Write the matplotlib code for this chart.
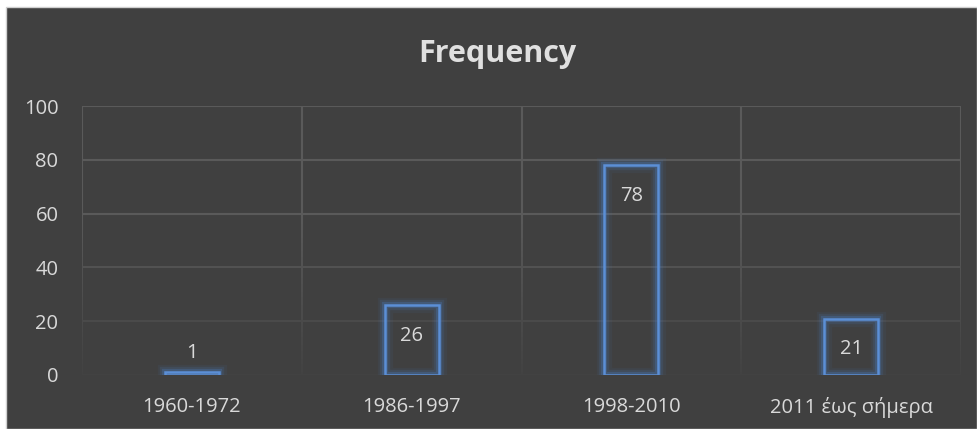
import matplotlib
matplotlib.use("Agg")
import matplotlib.pyplot as plt
import matplotlib.patheffects as pe
from matplotlib.patches import Rectangle
from matplotlib.collections import LineCollection
import numpy as np

plt.rcParams['font.family'] = ['Open Sans', 'DejaVu Sans']

categories = ["1960-1972", "1986-1997", "1998-2010", "2011 έως σήμερα"]
values = [1, 26, 78, 21]
y_ticks = [0, 20, 40, 60, 80, 100]
title = "Frequency"

BG = "#404040"
TEXT = "#d9d9d9"
BAR_EDGE = "#5b8fd6"
GLOW = "#4a7fc8"

fig = plt.figure(figsize=(9.77, 4.29), dpi=100, facecolor="white")

# dark chart area with a thin light border
fig.patches.append(Rectangle((6 / 977, 0), 1 - 6 / 977, 1 - 7 / 429,
                             transform=fig.transFigure, facecolor=BG,
                             edgecolor="#d0d0d0", linewidth=1.0, zorder=-5))

ax = fig.add_axes([82 / 977, 1 - 375 / 429, (961 - 82) / 977, (375 - 106) / 429])
ax.set_zorder(2)
ax.set_facecolor("none")
ax.set_xlim(-0.5, len(categories) - 0.5)
ax.set_ylim(0, 100)

for s in ax.spines.values():
    s.set_visible(False)

# gridlines that fade toward the baseline
def grid_color(y):
    t = np.clip(y / 60.0, 0, 1)
    c0 = np.array([0x42, 0x42, 0x42]) / 255
    c1 = np.array([0x5a, 0x5a, 0x5a]) / 255
    return tuple(c0 + (c1 - c0) * t)

for y in y_ticks:
    ax.axhline(y, color=grid_color(y), linewidth=1.5, zorder=1)

segs, cols = [], []
ys = np.linspace(0, 100, 101)
for xb in np.arange(-0.5, len(categories), 1.0):
    for a, b in zip(ys[:-1], ys[1:]):
        segs.append([(xb, a), (xb, b)])
        cols.append(grid_color((a + b) / 2))
ax.add_collection(LineCollection(segs, colors=cols, linewidths=1.5, zorder=1))

x = np.arange(len(categories))
bars = ax.bar(x, values, width=0.245, facecolor="none", edgecolor=BAR_EDGE,
              linewidth=1.8, zorder=3)
for b in bars:
    b.set_path_effects([
        pe.Stroke(linewidth=11, foreground=GLOW, alpha=0.07),
        pe.Stroke(linewidth=7.5, foreground=GLOW, alpha=0.14),
        pe.Stroke(linewidth=4.5, foreground=GLOW, alpha=0.28),
        pe.Normal(),
    ])

for xi, v in zip(x, values):
    if v >= 10:
        ax.annotate(str(v), (xi, v), xytext=(0, -22), textcoords="offset points",
                    ha="center", va="center", color=TEXT, fontsize=14.5, zorder=4)
    else:
        ax.annotate(str(v), (xi, v), xytext=(0, 14), textcoords="offset points",
                    ha="center", va="center", color=TEXT, fontsize=14.5, zorder=4)

ax.set_xticks(x)
ax.set_xticklabels(categories)
ax.set_yticks(y_ticks)
ax.tick_params(axis="both", length=0, colors=TEXT, labelsize=14.5)
ax.tick_params(axis="y", pad=17)
ax.tick_params(axis="x", pad=16)

fig.text(497 / 977, 1 - 54 / 429, title, ha="center", va="center",
         color="#e0e0e0", fontsize=22, fontweight="bold")

fig.savefig("out.png", dpi=100, facecolor=fig.get_facecolor())
